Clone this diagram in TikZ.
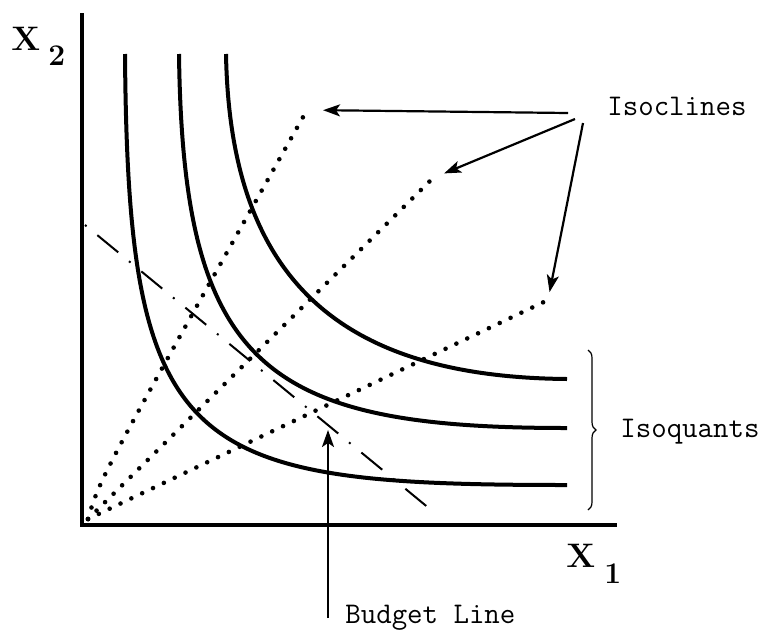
\documentclass[tikz,border=0pt]{standalone}
\usepackage{fontspec}
\usepackage{tikz}
\usetikzlibrary{
    arrows.meta,
    decorations.pathreplacing
}

\begin{document}
\begin{tikzpicture}[
        x=0.5pt, y=-0.5pt,
        axis/.style={line width=2pt, line join=miter},
        isoquant/.style={line width=2pt},
        isocline/.style={line width=2.3pt, line cap=round, dash pattern=on 0pt off 6pt},
        budget/.style={line width=1pt, dash pattern=on 1pt off 7pt on 13.5pt off 7pt},
        arr/.style={-{Stealth[length=8.5pt, width=6pt, inset=2pt]}, line width=1.1pt},
        lbl/.style={font=\fontsize{15}{18}\selectfont\ttfamily, inner sep=0pt},
        axlbl/.style={font=\fontsize{17}{20}\selectfont\bfseries, inner sep=0pt},
    ]
        \useasboundingbox (0,0) rectangle (770,632);

        % Axes
        \draw[axis] (82,13) -- (82,525) -- (617,525);
        \node[axlbl, anchor=base west] (xTwo) at (11,50) {X\hspace{4pt}\raisebox{-7.5pt}{\fontsize{15}{15}\selectfont 2}};
        \node[axlbl, anchor=base west] (xOne) at (566,567) {X\hspace{4.5pt}\raisebox{-8pt}{\fontsize{15}{15}\selectfont 1}};

        % Isoquants
        \draw[isoquant] (125,54) .. controls (128,455) and (185,485) .. (567,485);
        \draw[isoquant] (179,54) .. controls (183,368) and (265,428) .. (567,428);
        \draw[isoquant] (226,54) .. controls (230,275) and (335,377) .. (567,379);
        \draw[line width=0.6pt, decorate, decoration={brace, amplitude=4pt}] (588,350) -- (588,510);
        \node[lbl, anchor=base west] (isoquantsLabel) at (620,437) {Isoquants};

        % Isoclines
        \coordinate (O) at (88,519);
        \coordinate (endA) at (307,110);
        \coordinate (endB) at (433,178);
        \coordinate (endC) at (548,300);
        \draw[isocline] (O) .. controls (100,478) .. (endA);
        \draw[isocline] (O) -- (endB);
        \draw[isocline] (O) -- (endC);
        \node[lbl, anchor=base west] (isoclinesLabel) at (607,115) {Isoclines};
        \coordinate (fromA) at (568,113);
        \coordinate (fromB) at (575,119);
        \coordinate (fromC) at (583,123);
        \draw[arr, shorten >=8pt] (fromA) -- (endA);
        \draw[arr, shorten >=6pt] (fromB) -- (endB);
        \draw[arr, shorten >=4pt] (fromC) -- (endC);

        % Budget line
        \coordinate (budgetTop) at (85,225);
        \coordinate (budgetEnd) at (436,514);
        \draw[budget] (budgetTop) -- (budgetEnd);
        \node[lbl, anchor=base west] (budgetLabel) at (345,623) {Budget Line};
        \coordinate (budgetTail) at (328,618);
        \coordinate (budgetTip) at (328,430);
        \draw[arr] (budgetTail) -- (budgetTip);
    \end{tikzpicture}
\end{document}
